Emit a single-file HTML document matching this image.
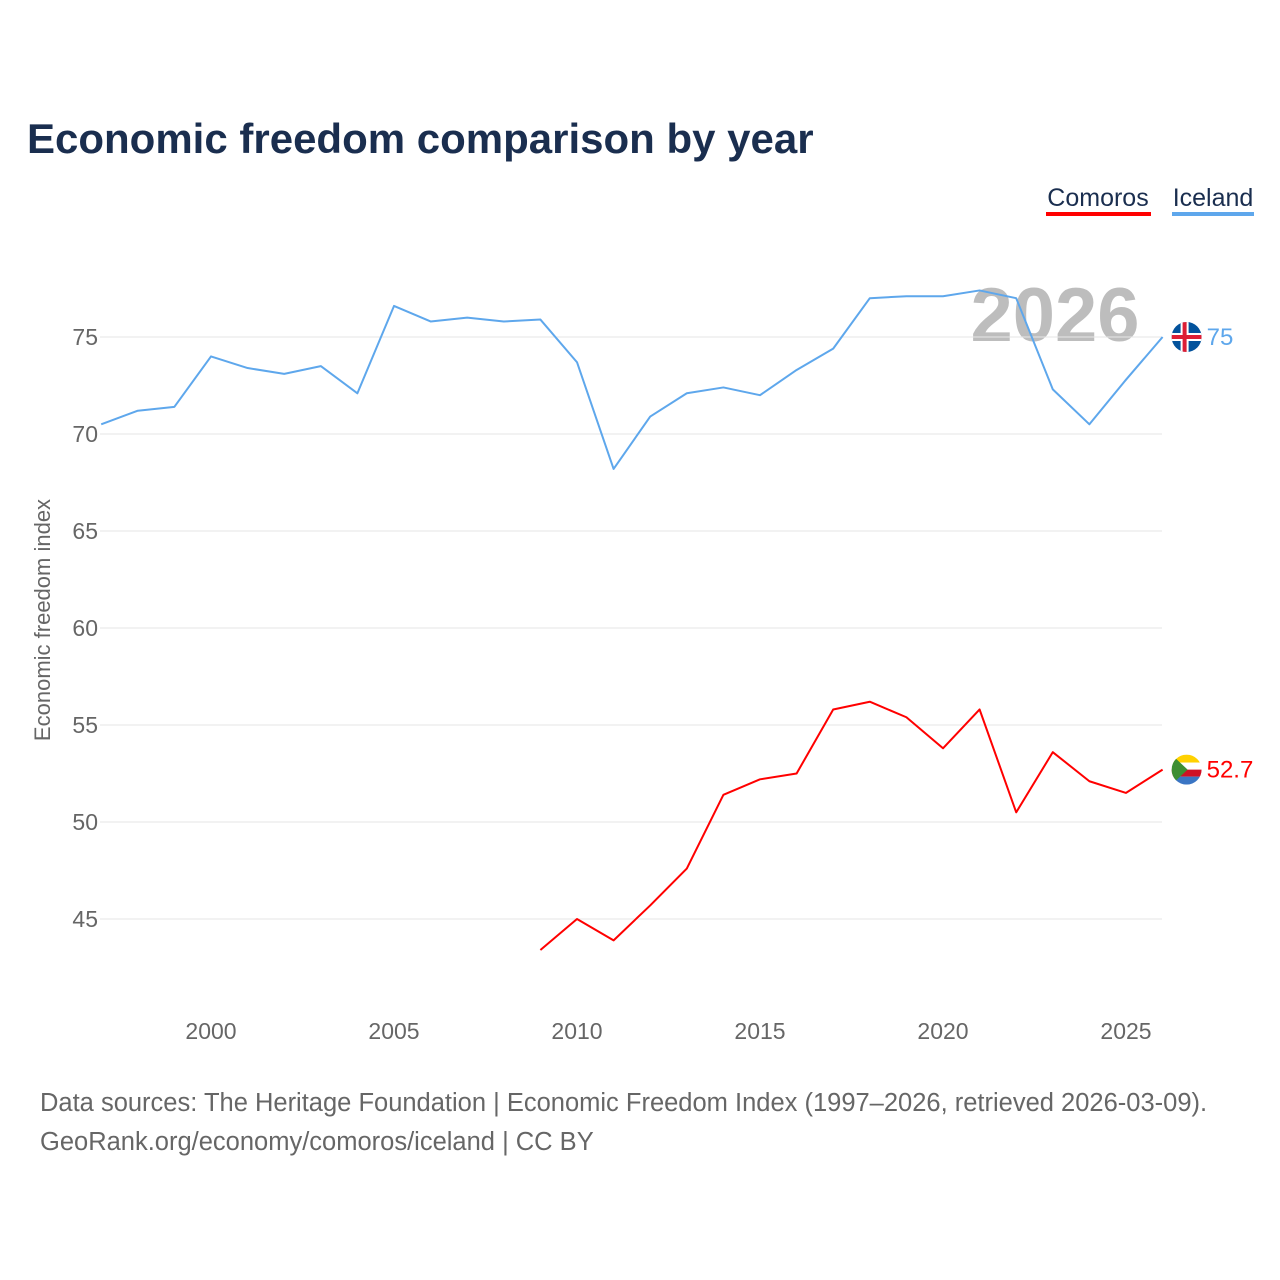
<!DOCTYPE html>
<html><head><meta charset="utf-8">
<style>
body{margin:0;background:#fff;font-family:"Liberation Sans",sans-serif;}
#wrap{position:relative;width:1280px;height:1280px;overflow:hidden;}
</style></head>
<body>
<div id="wrap">
<svg id="chart" width="1280" height="1280">
<text x="27" y="153" font-size="42" font-weight="bold" fill="#1a2e4f">Economic freedom comparison by year</text>
<g>
<text x="1098" y="206" font-size="25" fill="#1a2e4f" text-anchor="middle">Comoros</text>
<rect x="1046" y="212" width="105" height="4" fill="#ff0000"></rect>
<text x="1213" y="206" font-size="25" fill="#1a2e4f" text-anchor="middle">Iceland</text>
<rect x="1172" y="212" width="82" height="4" fill="#5ea7ec"></rect>
</g>
<text x="1055" y="341" font-size="76" font-weight="bold" fill="#bdbdbd" text-anchor="middle">2026</text>
<g id="grid"></g>
<g id="xaxis"></g>
<text transform="translate(50,620) rotate(-90)" font-size="22" fill="#666" text-anchor="middle">Economic freedom index</text>
<g id="series"></g>
<text x="40" y="1111" font-size="25.5" fill="#666">Data sources: The Heritage Foundation | Economic Freedom Index (1997–2026, retrieved 2026-03-09).</text>
<text x="40" y="1150" font-size="25.5" fill="#666">GeoRank.org/economy/comoros/iceland | CC BY</text>
</svg>
</div>
<script>
const years=[1997,1998,1999,2000,2001,2002,2003,2004,2005,2006,2007,2008,2009,2010,2011,2012,2013,2014,2015,2016,2017,2018,2019,2020,2021,2022,2023,2024,2025,2026];
const iceland=[70.5,71.2,71.4,74.0,73.4,73.1,73.5,72.1,76.6,75.8,76.0,75.8,75.9,73.7,68.2,70.9,72.1,72.4,72.0,73.3,74.4,77.0,77.1,77.1,77.4,77.0,72.3,70.5,72.8,75.0];
const comoros=[null,null,null,null,null,null,null,null,null,null,null,null,43.4,45.0,43.9,45.7,47.6,51.4,52.2,52.5,55.8,56.2,55.4,53.8,55.8,50.5,53.6,52.1,51.5,52.7];
const yTicks=[45,50,55,60,65,70,75];
const xTicks=[2000,2005,2010,2015,2020,2025];
const NS="http://www.w3.org/2000/svg";
function xs(y){return 101.2+(y-1997)*36.6;}
function ys(v){return 337+(75-v)*19.4;}
function mk(t,a,p){const e=document.createElementNS(NS,t);for(const k in a)e.setAttribute(k,a[k]);p.appendChild(e);return e;}
const grid=document.getElementById('grid');
yTicks.forEach(v=>{
 const l=mk('line',{x1:100,x2:1162,y1:ys(v),y2:ys(v),stroke:'#e6e6e6','stroke-width':1},grid);
 
 
 const t=mk('text',{x:98,y:ys(v)+8,'font-size':23,fill:'#666','text-anchor':'end'},grid);
 t.textContent=v;
 
 
});
const xa=document.getElementById('xaxis');
xTicks.forEach(v=>{
 const t=mk('text',{x:xs(v),y:1039,'font-size':23,fill:'#666','text-anchor':'middle'},xa);
 t.textContent=v;
 
 
});
const sg=document.getElementById('series');
function line(vals,color,name,label,flag){
 let d='';let started=false;let last=null;
 vals.forEach((v,i)=>{if(v==null)return;d+=(started?'L':'M')+xs(years[i])+','+ys(v);started=true;last=[xs(years[i]),ys(v),v];});
 const p=mk('path',{d:d,fill:'none',stroke:color,'stroke-width':2,'stroke-linejoin':'round'},sg);
 
 
 const g=mk('g',{},sg);
 
 
 const cx=last[0]+24,cy=last[1];
 const cp=mk('clipPath',{id:'c'+name},g);mk('circle',{cx:cx,cy:cy,r:15},cp);
 const fg=mk('g',{'clip-path':'url(#c'+name+')'},g);
 flag(fg,cx,cy);
 const t=mk('text',{x:cx+20,y:cy+8,'font-size':24,fill:color},sg);
 t.textContent=label;
 
 
}
line(iceland,'#5ea7ec','iceland','75',(g,cx,cy)=>{
 mk('rect',{x:cx-15,y:cy-15,width:30,height:30,fill:'#02529c'},g);
 mk('rect',{x:cx-15,y:cy-4,width:30,height:8,fill:'#fff'},g);
 mk('rect',{x:cx-6,y:cy-15,width:8,height:30,fill:'#fff'},g);
 mk('rect',{x:cx-15,y:cy-2,width:30,height:4,fill:'#dc1e35'},g);
 mk('rect',{x:cx-4,y:cy-15,width:4,height:30,fill:'#dc1e35'},g);
});
line(comoros,'#ff0000','comoros','52.7',(g,cx,cy)=>{
 mk('rect',{x:cx-15,y:cy-15,width:30,height:8,fill:'#ffd100'},g);
 mk('rect',{x:cx-15,y:cy-7,width:30,height:7,fill:'#fff'},g);
 mk('rect',{x:cx-15,y:cy,width:30,height:7,fill:'#ce1126'},g);
 mk('rect',{x:cx-15,y:cy+7,width:30,height:8,fill:'#3a75c4'},g);
 mk('polygon',{points:(cx-15)+','+(cy-15)+' '+(cx+1)+','+cy+' '+(cx-15)+','+(cy+15),fill:'#3d8e33'},g);
});
</script>
</body></html>
